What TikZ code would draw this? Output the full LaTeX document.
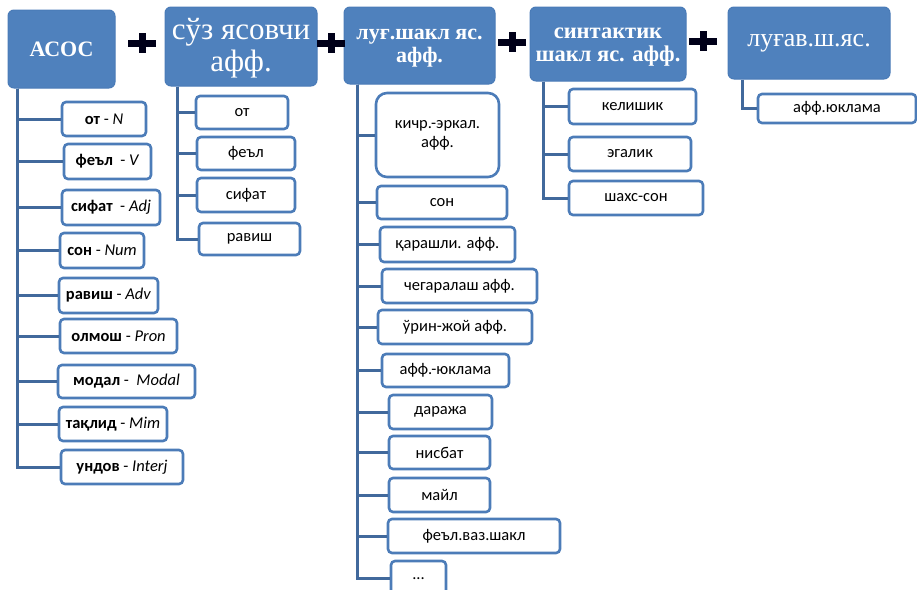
\documentclass[tikz,border=0pt]{standalone}
\usepackage{fontspec}
\setmainfont{Liberation Serif}
\newfontfamily\carl{Carlito}
\definecolor{hdrfill}{HTML}{4F81BD}
\definecolor{hdrdraw}{HTML}{4A7BB7}
\definecolor{boxdraw}{HTML}{4C7CB8}
\definecolor{trunk}{HTML}{41699C}
\tikzset{
  hdr/.style={draw=hdrdraw, line width=1pt, fill=hdrfill, rounded corners=6pt, inner sep=0pt, text=white, align=center},
  leaf/.style={draw=boxdraw, line width=2.6pt, fill=white, rounded corners=4pt, inner sep=0pt, align=center, font=\carl\fontsize{16.5}{19}\selectfont},
  tree/.style={draw=trunk, line width=3pt},
  plusbar/.style={draw=black!90!blue, line width=7pt}
}
\newcommand{\plussign}[2]{%
  \draw[plusbar] (#1-14,#2) -- (#1+14,#2);
  \draw[plusbar] (#1,#2-10) -- (#1,#2+10);}
\begin{document}
\begin{tikzpicture}[x=1pt,y=-1pt]
\useasboundingbox (0,0) rectangle (917,589);
% headers
\node[hdr, minimum width=107, minimum height=78] (asos) at (61.5,49) {};
\node[text=white, font=\bfseries\fontsize{22}{26}\selectfont] (asost) at (asos.center) {АСОС};
\node[hdr, minimum width=152, minimum height=79] (suz) at (241,46.5) {};
\node[text=white, align=center, font=\fontsize{31}{32}\selectfont] (suzt) at ([yshift=-2pt]suz.center) {сўз ясовчи\\афф.};
\node[hdr, minimum width=151, minimum height=77] (lug) at (419.5,45.5) {};
\node[text=white, align=center, font=\bfseries\fontsize{22}{23}\selectfont] (lugt) at ([yshift=-3pt]lug.center) {луғ.шакл яс.\\афф.};
\node[hdr, minimum width=156, minimum height=74] (sint) at (608,44) {};
\node[text=white, align=center, font=\bfseries\fontsize{22.5}{23}\selectfont] (sintt) at ([yshift=-3pt]sint.center) {синтактик\\шакл яс. афф.};
\node[hdr, minimum width=162, minimum height=72] (lugav) at (809,43) {};
\node[text=white, font=\fontsize{26}{30}\selectfont] (lugavt) at (lugav.center) {луғав.ш.яс.};
% plus signs
\plussign{142}{43}
\plussign{331}{43}
\plussign{512}{42}
\plussign{703}{41}
% column 1
\node[leaf, minimum width=84, minimum height=34] (a1) at (104,119) {{\bfseries от} - \textit{N}};
\node[leaf, minimum width=87, minimum height=35] (a2) at (107.5,161.5) {{\bfseries феъл} \ - \textit{V}};
\node[leaf, minimum width=98, minimum height=35] (a3) at (111,207.5) {{\bfseries сифат} \ - \textit{Adj}};
\node[leaf, minimum width=84, minimum height=35] (a4) at (102,250.5) {{\bfseries сон} - \textit{Num}};
\node[leaf, minimum width=99, minimum height=35] (a5) at (108.5,295.5) {{\bfseries равиш} - \textit{Adv}};
\node[leaf, minimum width=117, minimum height=34] (a6) at (118.5,336) {{\bfseries олмош} - \textit{Pron}};
\node[leaf, minimum width=137, minimum height=33] (a7) at (126.5,381.5) {{\bfseries модал} - \ \textit{Modal}};
\node[leaf, minimum width=108, minimum height=34] (a8) at (113,424) {{\bfseries тақлид} - \textit{Mim}};
\node[leaf, minimum width=122, minimum height=34] (a9) at (122,467) {{\bfseries ундов} - \textit{Interj}};
\foreach \n in {a1,a2,a3,a4,a5,a6,a7,a8,a9}
  \draw[tree] ([xshift=10pt]asos.south west) |- (\n.west);
% column 2
\node[leaf, minimum width=92, minimum height=33] (b1) at (242,112.5) {от};
\node[leaf, minimum width=98, minimum height=33] (b2) at (246,153.5) {феъл};
\node[leaf, minimum width=98, minimum height=34] (b3) at (246,195) {сифат};
\node[leaf, minimum width=101, minimum height=32] (b4) at (249.5,239) {равиш};
\foreach \n in {b1,b2,b3,b4}
  \draw[tree] ([xshift=13pt]suz.south west) |- (\n.west);
% column 3
\node[leaf, rounded corners=11pt, minimum width=123, minimum height=84] (c1) at (437.5,135) {кичр.-эркал.\\афф.};
\node[leaf, minimum width=130, minimum height=33] (c2) at (442,202.5) {сон};
\node[leaf, minimum width=135, minimum height=35] (c3) at (447.5,244.5) {қарашли. афф.};
\node[leaf, minimum width=155, minimum height=34] (c4) at (459.5,286) {чегаралаш афф.};
\node[leaf, minimum width=154, minimum height=34] (c5) at (455,327) {ўрин-жой афф.};
\node[leaf, minimum width=127, minimum height=33] (c6) at (445.5,370.5) {афф.-юклама};
\node[leaf, minimum width=103, minimum height=34] (c7) at (440.5,412) {даража};
\node[leaf, minimum width=101, minimum height=33] (c8) at (439.5,452.5) {нисбат};
\node[leaf, minimum width=101, minimum height=34] (c9) at (439.5,495) {майл};
\node[leaf, minimum width=172, minimum height=34] (c10) at (474,536) {феъл.ваз.шакл};
\node[leaf, minimum width=55, minimum height=35] (c11) at (418.5,578.5) {...};
\foreach \n in {c1,c2,c3,c4,c5,c6,c7,c8,c9,c10,c11}
  \draw[tree] ([xshift=14pt]lug.south west) |- (\n.west);
% column 4
\node[leaf, minimum width=127, minimum height=35] (d1) at (632.5,106.5) {келишик};
\node[leaf, minimum width=122, minimum height=34] (d2) at (630,154) {эгалик};
\node[leaf, minimum width=134, minimum height=34] (d3) at (636,198) {шахс-сон};
\foreach \n in {d1,d2,d3}
  \draw[tree] ([xshift=14pt]sint.south west) |- (\n.west);
% column 5
\node[leaf, minimum width=158, minimum height=29] (e1) at (837,108.5) {афф.юклама};
\draw[tree] ([xshift=15pt]lugav.south west) |- (e1.west);
\end{tikzpicture}
\end{document}
